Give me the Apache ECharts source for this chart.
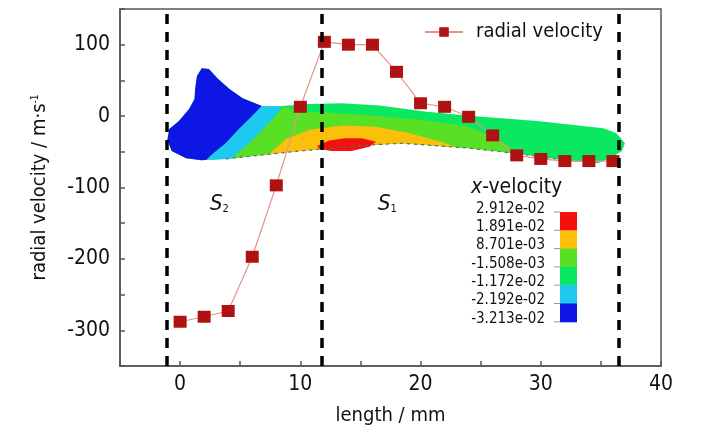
<!DOCTYPE html>
<html>
<head>
<meta charset="utf-8">
<script src="https://cdn.jsdelivr.net/npm/echarts@6/dist/echarts.min.js"></script>
<style>html,body{margin:0;background:#fff}#chart{width:728px;height:433px}</style>
</head>
<body>
<div id="chart"></div>
<script>
// ---- data ----
const lengthMm = [0, 2, 4, 6, 8, 10, 12, 14, 16, 18, 20, 22, 24, 26, 28, 30, 32, 34, 36];
const radialVelocity = [-288, -281, -273, -197, -97, 13, 104, 100, 100, 62, 18, 13, -1, -27, -55, -60, -63, -63, -63];
const dividerX = [-1.15, 11.8, 36.5];

// contour zones of the x-velocity field, in (length, velocity-axis) units
const shapeOutline = [[-1.06,-33],[-0.9,-18],[-0.1,-7],[0.75,10],[1.2,24],[1.25,38],[1.4,56],[1.8,67],[2.4,66],[3.1,53],[4.1,38],[5.2,25],[6.8,14],[8.5,14],[10.75,17],[13.5,18],[16.6,15],[20.5,6],[24.3,0],[29.7,-7],[35.2,-17],[36.3,-24],[37,-38],[36.75,-49],[35.75,-59],[34.7,-66],[32.4,-63],[28.25,-53],[24.1,-45],[18.5,-38],[16.25,-40],[13,-44],[9.3,-50],[6.6,-55],[3.8,-60],[1.8,-62],[0.5,-59],[-0.7,-49]];
const blueZone = [[-1.06,-33],[-0.9,-18],[-0.1,-7],[0.75,10],[1.2,24],[1.25,38],[1.4,56],[1.8,67],[2.4,66],[3.1,53],[4.1,38],[5.2,25],[6.8,14],[6,0],[4.9,-18],[3.8,-38],[2.7,-53],[2.2,-61],[1.8,-62],[0.5,-59],[-0.7,-49]];
const cyanZone = [[6.8,14],[8.5,14],[7.7,-4],[6.6,-24],[5.5,-42],[4.3,-59],[3.8,-60],[2.2,-61],[2.7,-53],[3.8,-38],[4.9,-18],[6,0]];
const limeZone = [[8.6,13],[10,6],[12.1,5],[16,1],[20,-5],[24,-15],[26.5,-33],[28.2,-52],[24.1,-45],[18.5,-38],[16.25,-40],[13,-44],[9.3,-50],[6.6,-55],[4.3,-59],[5.5,-42],[6.6,-24],[7.7,-4]];
const orangeZone = [[7.4,-53],[8.8,-32],[10.75,-19],[13.5,-13],[16.25,-15],[19.1,-24],[21.9,-37],[22.9,-43],[18.5,-38],[16.25,-40],[13,-44],[9.3,-50]];
const redZone = [[11.4,-42],[12.4,-34],[13.7,-31],[15.1,-31],[16.3,-36],[15.75,-43],[14.25,-49],[12.6,-49],[11.6,-46]];
const zones = [shapeOutline, blueZone, cyanZone, limeZone, orangeZone, redZone];
const zoneColors = ['#0ae862', '#0d16e4', '#1ec8f0', '#58e024', '#fcc00c', '#f51010'];
const bottomEdge = [[3.8,-60],[6.6,-55],[9.3,-50],[13,-44],[16.25,-40],[18.5,-38],[24.1,-45],[28.25,-53],[32.4,-63]];

// colour bar of the contour legend (top to bottom)
const barLabels = ['2.912e-02', '1.891e-02', '8.701e-03', '-1.508e-03', '-1.172e-02', '-2.192e-02', '-3.213e-02'];
const barColors = ['#f51010', '#fcc00c', '#58e024', '#0ae862', '#1ec8f0', '#0d16e4'];

const FONT = "'Liberation Sans Narrow', 'Arial Narrow', 'DejaVu Sans Condensed', sans-serif";
const chart = echarts.init(document.getElementById('chart'));

// colour bar + annotations
const graphics = [];
const barX = 560, barTop = 212, segH = 18.3;
barColors.forEach((c, i) => {
    graphics.push({ type: 'rect', shape: { x: barX, y: barTop + i * segH, width: 17, height: segH + 0.5 }, style: { fill: c } });
});
barLabels.forEach((t, i) => {
    const y = barTop + i * segH;
    graphics.push({ type: 'line', shape: { x1: 554, y1: y, x2: 560, y2: y }, style: { stroke: '#999', lineWidth: 1 } });
    graphics.push({ type: 'text', x: 545, y: y - 3, style: { text: t, fill: '#111', font: '15px ' + FONT, align: 'right', verticalAlign: 'middle' } });
});
graphics.push({ type: 'text', x: 471, y: 188, style: { text: '{i|x}-velocity', fill: '#111', font: '21px ' + FONT, verticalAlign: 'middle', rich: { i: { fontStyle: 'italic', fontSize: 21, fontFamily: FONT } } } });
[['2', 210], ['1', 378]].forEach(([sub, x]) => {
    graphics.push({ type: 'text', x: x, y: 204, style: { text: '{s|S}{b|' + sub + '}', fill: '#111', verticalAlign: 'middle', rich: { s: { fontStyle: 'italic', fontSize: 22, fontFamily: FONT }, b: { fontSize: 11, fontFamily: FONT, verticalAlign: 'bottom', padding: [8, 0, 0, 0] } } } });
});

const option = {
    animation: false,
    grid: { left: 120, right: 67, top: 9, bottom: 67, show: true, borderColor: '#555', borderWidth: 1.5 },
    legend: {
        data: ['radial velocity'], left: 419, top: 17, itemWidth: 38, itemHeight: 12,
        textStyle: { fontSize: 20, color: '#111', fontFamily: FONT, padding: [0, 0, 0, 8] }
    },
    xAxis: {
        type: 'value', min: -5, max: 40, interval: 5,
        name: 'length / mm', nameLocation: 'middle', nameGap: 40,
        nameTextStyle: { fontSize: 20, color: '#111', fontFamily: FONT },
        axisLine: { onZero: false, lineStyle: { color: '#555', width: 1.5 } },
        axisTick: { inside: true, length: 5, lineStyle: { color: '#555', width: 1.5 } },
        axisLabel: { fontSize: 21, color: '#111', fontFamily: FONT, margin: 8, showMinLabel: true, showMaxLabel: true, formatter: v => (v % 10 === 0 ? String(v) : '') },
        splitLine: { show: false }
    },
    yAxis: {
        type: 'value', min: -350, max: 150, interval: 50,
        name: '{t|radial velocity / m·s}{s|-1}', nameLocation: 'middle', nameGap: 70,
        nameTextStyle: { fontSize: 20, color: '#111', fontFamily: FONT, rich: { t: { fontSize: 20, fontFamily: FONT }, s: { fontSize: 10, fontFamily: FONT, verticalAlign: 'top' } } },
        axisLine: { show: true, onZero: false, lineStyle: { color: '#555', width: 1.5 } },
        axisTick: { show: true, inside: true, length: 5, lineStyle: { color: '#555', width: 1.5 } },
        axisLabel: { fontSize: 21, color: '#111', fontFamily: FONT, margin: 10, formatter: v => (v % 100 === 0 ? String(v) : '') },
        splitLine: { show: false }
    },
    graphic: graphics,
    series: [{
        type: 'custom', name: 'x-velocity', z: 1, silent: true,
        data: zones.map((z, i) => [i]),
        renderItem: (params, api) => {
            const idx = api.value(0);
            return { type: 'polygon', shape: { points: zones[idx].map(p => api.coord(p)) }, style: { fill: zoneColors[idx] } };
        }
    }, {
        type: 'custom', name: 'wall', z: 2, silent: true,
        data: [[0]],
        renderItem: (params, api) => ({
            type: 'polyline', shape: { points: bottomEdge.map(p => api.coord(p)) },
            style: { stroke: '#666', lineWidth: 1.2, lineDash: [3, 4], fill: null }
        })
    }, {
        type: 'line', name: 'radial velocity', z: 3,
        data: lengthMm.map((x, i) => [x, radialVelocity[i]]),
        symbol: 'rect', symbolSize: [13, 12],
        lineStyle: { color: '#e9908c', width: 1.2 },
        itemStyle: { color: '#b01212' },
        markLine: {
            silent: true, symbol: ['none', 'none'], label: { show: false },
            lineStyle: { color: '#000', type: [10, 8], width: 3.5 },
            data: dividerX.map(x => ({ xAxis: x }))
        }
    }]
};
chart.setOption(option);
</script>
</body>
</html>
